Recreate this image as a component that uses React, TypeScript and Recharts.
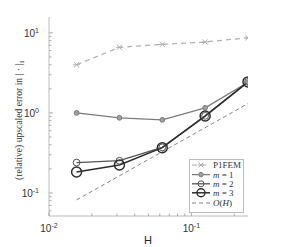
import { LineChart, Line, XAxis, YAxis, Legend } from 'recharts';

// mesh sizes H and errors
const H = [0.015625, 0.03125, 0.0625, 0.125, 0.25];
const p1fem = [4.0, 6.6, 7.2, 7.7, 8.7];
const m1 = [1.0, 0.87, 0.82, 1.16, 2.42];
const m2 = [0.24, 0.253, 0.372, 0.92, 2.44];
const m3 = [0.183, 0.224, 0.368, 0.915, 2.44];
const orderH = [0.082, 0.164, 0.328, 0.655, 1.31];

const xMajor = [0.01, 0.1];
const xMinor = [0.02, 0.03, 0.04, 0.05, 0.06, 0.07, 0.08, 0.09, 0.2];
const yMajor = [0.1, 1, 10];
const yMinor = [0.06, 0.07, 0.08, 0.09, 0.2, 0.3, 0.4, 0.5, 0.6, 0.7, 0.8, 0.9, 2, 3, 4, 5, 6, 7, 8, 9];

const data = H.map((h, i) => ({
  H: h,
  p1fem: p1fem[i],
  m1: m1[i],
  m2: m2[i],
  m3: m3[i],
  oh: orderH[i],
}));

const SANS = '"Liberation Sans", Arial, sans-serif';
const SERIF = '"Liberation Serif", "Times New Roman", serif';
const BOX = '#bdbdbd';
const TICK = '#9a9a9a';

const expOf = (v: number) => Math.round(Math.log10(v));
const isMajor = (v: number, majors: number[]) => majors.some((m) => Math.abs(m - v) < 1e-9);

function PowLabel({ x, y, v, anchor }: { x: number; y: number; v: number; anchor: 'middle' | 'end' }) {
  return (
    <text x={x} y={y} textAnchor={anchor} fontFamily={SANS} fontSize={10} fill="#333">
      <tspan>10</tspan>
      <tspan dy={-4} fontSize={7}>{expOf(v)}</tspan>
    </text>
  );
}

function BottomTick(props: any) {
  const { x, y, payload } = props;
  const major = isMajor(payload.value, xMajor);
  return (
    <g>
      <line x1={x} x2={x} y1={y} y2={y - (major ? 4 : 2.5)} stroke={TICK} strokeWidth={0.8} />
      {major && <PowLabel x={x} y={y + 16} v={payload.value} anchor="middle" />}
    </g>
  );
}

function TopTick(props: any) {
  const { x, y, payload } = props;
  const major = isMajor(payload.value, xMajor);
  return <line x1={x} x2={x} y1={y} y2={y + (major ? 4 : 2.5)} stroke={TICK} strokeWidth={0.8} />;
}

function LeftTick(props: any) {
  const { x, y, payload } = props;
  const major = isMajor(payload.value, yMajor);
  return (
    <g>
      <line x1={x} x2={x + (major ? 4 : 2.5)} y1={y} y2={y} stroke={TICK} strokeWidth={0.8} />
      {major && <PowLabel x={x - 10} y={y + 4} v={payload.value} anchor="end" />}
    </g>
  );
}

function RightTick(props: any) {
  const { x, y, payload } = props;
  const major = isMajor(payload.value, yMajor);
  return <line x1={x} x2={x - (major ? 4 : 2.5)} y1={y} y2={y} stroke={TICK} strokeWidth={0.8} />;
}

const CrossDot = (props: any) => {
  const { cx, cy, index } = props;
  const s = 2.6;
  return (
    <path
      key={`x-${index}`}
      d={`M${cx - s},${cy - s}L${cx + s},${cy + s}M${cx - s},${cy + s}L${cx + s},${cy - s}M${cx - s - 0.8},${cy}L${cx + s + 0.8},${cy}`}
      stroke="#b0b0b0"
      strokeWidth={1}
      fill="none"
    />
  );
};

const series = [
  { key: 'p1fem', name: 'P1FEM', color: '#b0b0b0', width: 1.2, dash: '5 4', r: 0 },
  { key: 'm1', name: '1', color: '#7c7c7c', width: 1.3, dash: undefined, r: 2.4 },
  { key: 'm2', name: '2', color: '#555', width: 1.3, dash: undefined, r: 3.4 },
  { key: 'm3', name: '3', color: '#2e2e2e', width: 1.5, dash: undefined, r: 5 },
  { key: 'oh', name: 'O(H)', color: '#666', width: 0.8, dash: '4 3', r: 0 },
];

function LegendBox() {
  const rows = [165, 174.6, 183.8, 192.8, 203].map((y) => y - 159);
  return (
    <svg width={56} height={55} style={{ display: 'block' }}>
      <rect x={0.5} y={0.5} width={54} height={53} fill="#fff" stroke={BOX} strokeWidth={1} />
      {series.map((s, i) => {
        const y = rows[i];
        const cx = 12;
        return (
          <g key={s.key}>
            <line x1={3} x2={21} y1={y} y2={y} stroke={s.color} strokeWidth={s.key === 'oh' ? 0.8 : s.width} strokeDasharray={s.dash} />
            {s.key === 'p1fem' && (
              <path d={`M${cx - 2.4},${y - 2.4}L${cx + 2.4},${y + 2.4}M${cx - 2.4},${y + 2.4}L${cx + 2.4},${y - 2.4}M${cx - 3},${y}L${cx + 3},${y}`} stroke={s.color} strokeWidth={1} />
            )}
            {s.r > 0 && (
              <circle cx={cx} cy={y} r={s.key === 'm1' ? 2.2 : s.key === 'm2' ? 3 : 4}
                fill={s.key === 'm1' ? '#a0a0a0' : 'none'} stroke={s.color} strokeWidth={s.key === 'm3' ? 1.4 : 1} />
            )}
            {s.key === 'p1fem' && (
              <text x={24} y={y + 3} fontFamily={SERIF} fontSize={9} fill="#333">P1FEM</text>
            )}
            {(s.key === 'm1' || s.key === 'm2' || s.key === 'm3') && (
              <text x={24} y={y + 3} fontFamily={SERIF} fontSize={9} fill="#333">
                <tspan fontStyle="italic">m</tspan> = {s.name}
              </text>
            )}
            {s.key === 'oh' && (
              <text x={24} y={y + 3} fontFamily={SERIF} fontSize={9} fill="#333">
                <tspan fontStyle="italic">O</tspan>(<tspan fontStyle="italic">H</tspan>)
              </text>
            )}
          </g>
        );
      })}
    </svg>
  );
}

export default function App() {
  return (
    <div style={{ position: 'absolute', left: 0, top: 0, width: 281, height: 247, background: '#fff' }}>
      <LineChart width={281} height={247} data={data} margin={{ top: 17, right: 33, bottom: 0, left: 0 }}>
        <XAxis
          dataKey="H"
          type="number"
          scale="log"
          domain={[0.01, 0.25]}
          allowDataOverflow
          ticks={[...xMajor, ...xMinor]}
          interval={0}
          tickSize={0}
          tickMargin={0}
          tick={BottomTick}
          tickLine={false}
          axisLine={{ stroke: BOX }}
          height={31}
          label={{
            content: () => (
              <text x={148} y={244} textAnchor="middle" fontFamily={SANS} fontSize={11} fill="#222">H</text>
            ),
          }}
        />
        <XAxis
          xAxisId="top"
          dataKey="H"
          orientation="top"
          type="number"
          scale="log"
          domain={[0.01, 0.25]}
          allowDataOverflow
          ticks={[...xMajor, ...xMinor]}
          interval={0}
          tickSize={0}
          tickMargin={0}
          tick={TopTick}
          tickLine={false}
          axisLine={{ stroke: BOX }}
          height={0}
        />
        <YAxis
          type="number"
          scale="log"
          domain={[0.0516, 15.8]}
          allowDataOverflow
          ticks={[...yMajor, ...yMinor]}
          interval={0}
          tickSize={0}
          tickMargin={0}
          tick={LeftTick}
          tickLine={false}
          axisLine={{ stroke: BOX }}
          width={49}
          label={{
            content: () => (
              <text
                x={0}
                y={0}
                transform="translate(22,120) rotate(-90)"
                textAnchor="middle"
                fontFamily={SERIF}
                fontSize={9.6}
                fill="#333"
              >
                (relative) upscaled error in | · |<tspan fontSize={7} dy={2}>1</tspan>
              </text>
            ),
          }}
        />
        <YAxis
          yAxisId="right"
          orientation="right"
          type="number"
          scale="log"
          domain={[0.0516, 15.8]}
          allowDataOverflow
          ticks={[...yMajor, ...yMinor]}
          interval={0}
          tickSize={0}
          tickMargin={0}
          tick={RightTick}
          tickLine={false}
          axisLine={{ stroke: BOX }}
          width={0}
        />
        <Legend
          layout="horizontal"
          align="center"
          verticalAlign="middle"
          content={() => <LegendBox />}
          wrapperStyle={{ position: 'absolute', left: 189, top: 159, width: 56, height: 55 }}
        />
        <Line dataKey="p1fem" stroke="#b0b0b0" strokeWidth={1.2} strokeDasharray="5 4" dot={CrossDot} isAnimationActive={false} />
        <Line dataKey="m1" stroke="#7c7c7c" strokeWidth={1.3}
          dot={{ r: 2.4, fill: '#a0a0a0', stroke: '#7c7c7c', strokeWidth: 1 }} isAnimationActive={false} />
        <Line dataKey="m2" stroke="#555" strokeWidth={1.3}
          dot={{ r: 3.4, fill: 'none', stroke: '#555', strokeWidth: 1 }} isAnimationActive={false} />
        <Line dataKey="m3" stroke="#2e2e2e" strokeWidth={1.5}
          dot={{ r: 5, fill: 'none', stroke: '#2e2e2e', strokeWidth: 1.5 }} isAnimationActive={false} />
        <Line dataKey="oh" stroke="#666" strokeWidth={0.8} strokeDasharray="4 3" dot={false} isAnimationActive={false} />
      </LineChart>
    </div>
  );
}
